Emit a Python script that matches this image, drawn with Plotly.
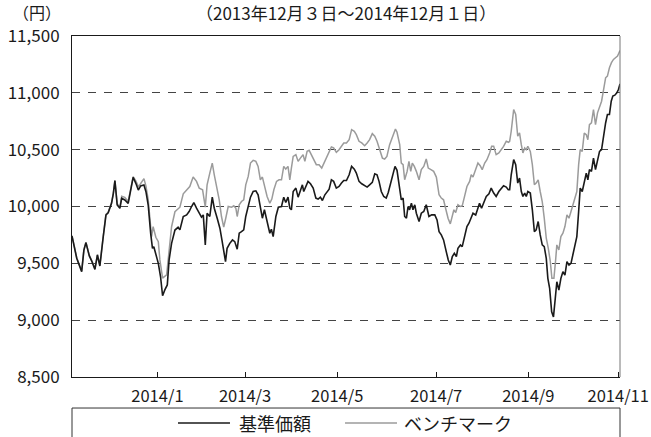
import plotly.graph_objects as go

# trading-day positions (0 = 2013/12/3) and values
bk_pos = [0, 2.1, 4.3, 5.3, 6.2, 7.7, 8.9, 10.2, 11.3, 12.4, 13.9, 15.1, 16.1, 17.6, 18.4, 19.1, 20.1, 21.3, 22.1, 23.5,
          25.0, 25.8, 27.2, 28.4, 29.5, 30.5, 32.0, 32.9, 33.9, 35.0, 35.8, 36.4, 37.3, 38.4, 39.4, 40.3, 41.3, 42.4, 43.2, 44.3,
          45.8, 47.2, 48.0, 49.5, 51.0, 52.1, 53.2, 54.2, 55.4, 56.6, 57.6, 58.4, 59.3, 60.1, 61.3, 62.4, 63.3, 64.6, 65.8, 66.7,
          67.5, 68.3, 69.0, 70.2, 71.4, 72.4, 73.5, 74.4, 75.4, 76.4, 77.3, 78.4, 79.4, 80.6, 81.8, 82.8, 83.8, 84.7, 85.6, 86.8,
          88.0, 88.7, 89.5, 90.7, 91.8, 93.2, 94.2, 95.1, 96.1, 96.9, 97.6, 98.4, 99.6, 100.6, 101.6, 102.5, 103.1, 104.3, 105.0, 106.1,
          107.3, 108.5, 109.5, 110.5, 111.4, 112.5, 113.5, 114.4, 115.4, 116.4, 117.6, 118.8, 119.9, 120.9, 122.1, 123.3, 124.4, 125.6, 126.5, 127.7,
          128.9, 130.2, 131.3, 132.4, 133.6, 134.7, 135.7, 136.6, 137.6, 138.7, 139.8, 140.7, 141.8, 142.8, 143.7, 144.6, 145.8, 146.5, 147.3, 148.0,
          148.8, 149.5, 150.2, 151.0, 151.7, 152.5, 153.2, 154.4, 155.4, 156.5, 157.6, 158.8, 160.0, 161.4, 162.4, 163.3, 164.3, 165.3, 166.5, 167.4,
          168.3, 169.2, 170.1, 171.0, 171.7, 172.8, 173.6, 174.7, 175.7, 176.6, 177.6, 178.4, 179.6, 180.6, 181.3, 182.2, 183.1, 184.3, 185.5, 186.5,
          187.6, 188.7, 189.9, 191.0, 192.0, 193.2, 194.1, 194.7, 195.4, 196.5, 197.4, 198.3, 199.1, 199.9, 200.6, 201.4, 202.1, 202.8, 203.9, 204.8,
          205.7, 206.5, 207.4, 208.3, 209.2, 210.1, 211.0, 211.7, 212.5, 213.4, 214.2, 215.0, 215.7, 216.6, 217.5, 218.4, 219.3, 220.2, 221.1, 222.0,
          222.8, 223.7, 224.6, 225.4, 226.1, 227.0, 227.9, 228.8, 229.5, 230.2, 231.1, 232.0, 232.9, 233.8, 234.7, 235.6, 236.5, 237.4, 238.2, 239.1,
          239.9, 240.6, 241.5, 242.4, 243.1, 243.8]
bk_val = [9740, 9545, 9427, 9617, 9682, 9565, 9514, 9447, 9573, 9477, 9734, 9925, 9945, 10028, 10116, 10227, 10013, 9984, 10072, 10057,
          10028, 10116, 10257, 10204, 10145, 10180, 10189, 10130, 10013, 9764, 9632, 9646, 9588, 9500, 9382, 9215, 9266, 9310, 9530, 9676,
          9793, 9817, 9794, 9912, 9926, 9956, 10000, 10035, 9985, 9941, 9906, 9926, 9662, 9941, 9912, 10082, 9985, 9897, 9809, 9706,
          9603, 9515, 9632, 9676, 9706, 9691, 9624, 9765, 9779, 9794, 9912, 10000, 10082, 10132, 10138, 10103, 10000, 9897, 9971, 9853,
          9765, 9800, 9735, 9912, 9994, 10000, 10082, 10035, 10082, 9985, 9971, 10132, 10162, 10082, 10147, 10191, 10132, 10200, 10221, 10200,
          10162, 10074, 10065, 10082, 10053, 10103, 10132, 10153, 10235, 10221, 10162, 10176, 10206, 10229, 10229, 10279, 10353, 10329, 10294, 10221,
          10200, 10182, 10171, 10191, 10212, 10288, 10279, 10221, 10132, 10088, 10074, 10124, 10212, 10265, 10353, 10318, 10171, 10059, 10074, 9912,
          9897, 10000, 9971, 10029, 9971, 10015, 9941, 9868, 9941, 9956, 10015, 9912, 9926, 9926, 9882, 9779, 9750, 9706, 9603, 9529,
          9485, 9559, 9588, 9559, 9632, 9662, 9647, 9735, 9824, 9853, 9912, 9941, 9926, 10000, 10029, 9985, 10029, 10088, 10112, 10162,
          10118, 10088, 10132, 10162, 10182, 10171, 10147, 10147, 10279, 10412, 10368, 10206, 10250, 10132, 10088, 10118, 10088, 10132, 10118, 9971,
          9779, 9794, 9868, 9750, 9662, 9647, 9544, 9368, 9279, 9074, 9029, 9191, 9338, 9265, 9368, 9426, 9397, 9515, 9485, 9500,
          9574, 9662, 9735, 9956, 10162, 10132, 10206, 10294, 10235, 10324, 10309, 10426, 10324, 10412, 10485, 10500, 10632, 10735, 10809, 10809,
          10926, 10971, 10979, 11000, 11029, 11079]

bm_pos = [0, 2.1, 4.3, 5.3, 6.2, 7.7, 8.9, 10.2, 11.3, 12.4, 13.9, 15.1, 16.1, 17.6, 18.4, 19.1, 20.1, 21.3, 22.1, 23.5,
          25.0, 25.8, 27.2, 28.4, 29.5, 30.5, 32.0, 32.9, 33.9, 35.4, 36.1, 37.3, 38.4, 39.1, 40.3, 42.1, 43.2, 44.3, 45.8, 47.7,
          48.0, 49.5, 51.0, 52.4, 53.9, 55.4, 56.6, 58.1, 59.3, 60.1, 61.3, 62.4, 63.3, 64.3, 65.5, 66.5, 67.5, 68.4, 69.5, 71.0,
          72.0, 72.9, 73.5, 74.4, 75.4, 76.4, 77.3, 78.4, 79.4, 80.6, 81.8, 82.8, 83.8, 84.7, 85.6, 86.8, 88.0, 88.9, 89.8, 91.0,
          92.1, 93.2, 94.2, 95.1, 96.1, 96.9, 97.6, 98.4, 99.6, 100.6, 101.6, 102.8, 103.6, 104.6, 105.5, 106.5, 107.6, 108.7, 109.9, 111.1,
          112.0, 113.2, 114.4, 115.4, 116.4, 117.6, 118.8, 119.9, 120.9, 122.1, 123.3, 124.4, 125.6, 126.5, 127.7, 128.9, 130.2, 131.3, 132.4, 133.6,
          134.7, 135.7, 136.9, 138.1, 139.1, 140.1, 141.3, 142.2, 143.1, 143.9, 144.6, 145.8, 146.5, 147.3, 148.0, 149.1, 149.9, 150.7, 151.4, 152.3,
          153.2, 154.4, 155.4, 156.5, 157.6, 158.5, 159.7, 160.9, 162.1, 163.3, 164.3, 165.3, 166.2, 167.3, 168.3, 169.2, 169.9, 170.7, 171.7, 172.8,
          173.6, 174.7, 175.7, 176.9, 177.6, 178.4, 179.6, 180.6, 181.6, 182.5, 183.6, 184.6, 185.8, 186.7, 187.6, 188.7, 189.9, 191.0, 192.0, 193.2,
          194.2, 194.7, 195.4, 196.5, 197.4, 198.3, 199.1, 199.9, 200.6, 201.4, 202.1, 202.8, 203.9, 204.8, 205.7, 206.5, 207.4, 208.3, 209.2, 210.1,
          211.0, 211.9, 212.8, 213.5, 214.4, 215.1, 215.7, 216.6, 217.5, 218.4, 219.3, 220.2, 221.1, 222.0, 222.8, 223.7, 224.6, 225.4, 226.1, 227.0,
          227.9, 228.8, 229.5, 230.2, 231.1, 232.0, 232.9, 233.8, 234.7, 235.6, 236.5, 237.4, 238.2, 239.1, 240.0, 240.9, 241.8, 242.7, 243.8]
bm_val = [9745, 9550, 9432, 9622, 9687, 9570, 9520, 9452, 9578, 9482, 9740, 9930, 9950, 10035, 10120, 10230, 10025, 9995, 10090, 10080,
          10045, 10125, 10262, 10225, 10175, 10200, 10245, 10180, 10060, 9734, 9822, 9729, 9690, 9530, 9370, 9399, 9617, 9822, 9954, 9984,
          9994, 10112, 10141, 10176, 10259, 10221, 10162, 10147, 9994, 10191, 10294, 10382, 10279, 10176, 10059, 9912, 9818, 9897, 10000, 9994,
          10006, 9985, 9912, 10015, 10044, 10059, 10191, 10265, 10382, 10406, 10397, 10353, 10235, 10259, 10176, 10088, 10029, 10065, 10147, 10221,
          10235, 10235, 10353, 10329, 10353, 10235, 10338, 10441, 10456, 10397, 10426, 10456, 10397, 10485, 10494, 10456, 10412, 10368, 10368, 10338,
          10377, 10426, 10476, 10524, 10515, 10476, 10500, 10535, 10559, 10559, 10588, 10676, 10662, 10632, 10574, 10559, 10535, 10559, 10588, 10641,
          10618, 10574, 10500, 10426, 10418, 10441, 10544, 10588, 10632, 10682, 10653, 10544, 10382, 10368, 10235, 10309, 10397, 10309, 10382, 10353,
          10309, 10235, 10324, 10353, 10418, 10338, 10324, 10309, 10259, 10103, 10074, 10059, 9985, 9897, 9847, 9926, 9971, 9947, 10015, 10000,
          10006, 10094, 10176, 10221, 10279, 10259, 10324, 10382, 10359, 10324, 10382, 10412, 10471, 10529, 10529, 10456, 10471, 10500, 10529, 10574,
          10565, 10574, 10662, 10853, 10809, 10618, 10647, 10544, 10471, 10515, 10500, 10529, 10485, 10368, 10191, 10206, 10235, 10132, 10044, 9897,
          9721, 9632, 9515, 9368, 9368, 9515, 9662, 9618, 9735, 9765, 9824, 9926, 9897, 9956, 10015, 10059, 10132, 10368, 10500, 10485,
          10647, 10632, 10588, 10721, 10735, 10853, 10721, 10824, 10868, 10926, 11029, 11132, 11147, 11221, 11265, 11294, 11309, 11324, 11373]

series_names = ["基準価額", "ベンチマーク"]
series_colors = ["#1a1a1a", "#9b9b9b"]
x_tick_pos = [38, 77, 118, 162, 203, 243]
x_tick_text = ["2014/1", "2014/3", "2014/5", "2014/7", "2014/9", "2014/11"]
y_tick_val = [8500, 9000, 9500, 10000, 10500, 11000, 11500]
y_tick_text = ["8,500", "9,000", "9,500", "10,000", "10,500", "11,000", "11,500"]

FONT = "Noto Sans CJK JP"

fig = go.Figure()
fig.add_trace(go.Scatter(x=bm_pos, y=bm_val, mode="lines", name=series_names[1],
                         line=dict(color=series_colors[1], width=1.5), showlegend=False))
fig.add_trace(go.Scatter(x=bk_pos, y=bk_val, mode="lines", name=series_names[0],
                         line=dict(color=series_colors[0], width=1.6), showlegend=False))

# legend drawn in a framed box below the plot
LEG_Y = -0.135
leg_items = [(0.1934, 0.2883, 0.3011), (0.4982, 0.5931, 0.6022)]
shapes = [
    dict(type="line", xref="paper", yref="paper", x0=1, x1=1, y0=0, y1=1,
         line=dict(color="#777777", width=1)),
    dict(type="rect", xref="paper", yref="paper", x0=0, x1=1, y0=-0.091, y1=-0.2,
         line=dict(color="#333333", width=1), fillcolor="rgba(0,0,0,0)"),
]
annotations = [
    dict(text="（円）", xref="paper", yref="paper", x=-0.016, y=1.07, xanchor="right",
         yanchor="middle", showarrow=False, font=dict(size=16)),
    dict(text="（2013年12月３日～2014年12月１日）", xref="paper", yref="paper", x=0.5, y=1.07,
         xanchor="center", yanchor="middle", showarrow=False, font=dict(size=17)),
]
for (lx0, lx1, tx), name, color in zip(leg_items, series_names, series_colors):
    shapes.append(dict(type="line", xref="paper", yref="paper", x0=lx0, x1=lx1, y0=LEG_Y, y1=LEG_Y,
                       line=dict(color=color, width=1.6)))
    annotations.append(dict(text=name, xref="paper", yref="paper", x=tx, y=LEG_Y, xanchor="left",
                            yanchor="middle", showarrow=False, font=dict(size=18)))

fig.update_layout(
    width=651, height=437,
    margin=dict(l=72, r=31, t=36, b=60, autoexpand=False),
    paper_bgcolor="white", plot_bgcolor="white",
    font=dict(family=FONT, size=16, color="#1a1a1a"),
    xaxis=dict(range=[0, 243.8], tickmode="array", tickvals=x_tick_pos, ticktext=x_tick_text,
               ticks="inside", ticklen=5, tickcolor="#1a1a1a", showline=True, linecolor="#1a1a1a",
               linewidth=1, mirror=True, showgrid=False, zeroline=False,
               tickfont=dict(size=16.5), ticklabelstandoff=4),
    yaxis=dict(range=[8500, 11500], tickmode="array", tickvals=y_tick_val, ticktext=y_tick_text,
               ticks="", showline=True, linecolor="#1a1a1a", linewidth=1,
               showgrid=True, gridcolor="#444444", griddash="8px,8px", gridwidth=1,
               zeroline=False, tickfont=dict(size=17), ticklabelstandoff=8),
    shapes=shapes,
    annotations=annotations,
)

fig.write_html("out.html", config={"displayModeBar": False},
               post_script="document.body.style.margin='0';")
